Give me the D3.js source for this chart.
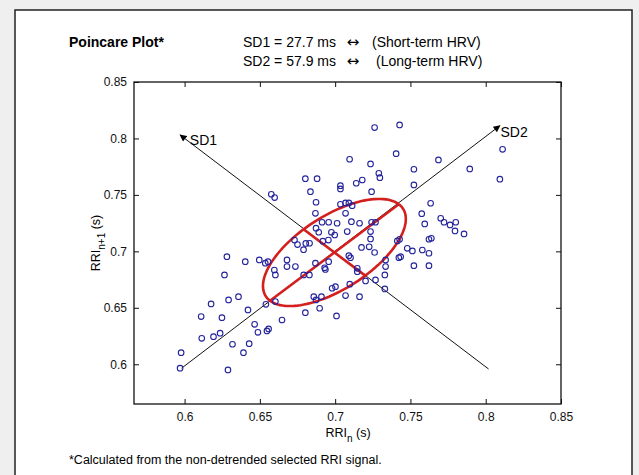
<!DOCTYPE html>
<html lang="en">
<head>
<meta charset="utf-8">
<title>Poincare Plot</title>
<script src="https://cdn.jsdelivr.net/npm/d3@7"></script>
<style>
  html, body { margin: 0; padding: 0; background: #efefef; }
  svg { display: block; font-family: "Liberation Sans", Arial, sans-serif; }
</style>
</head>
<body>
<svg width="639" height="475"></svg>
<script>
// RR interval pairs (seconds)
const rrN = [
  0.6576, 0.6598, 0.7262, 0.7428, 0.7405, 0.7096, 0.7235, 0.7290, 0.7297, 0.6802,
  0.6880, 0.7035, 0.7035, 0.7140, 0.7180, 0.7242, 0.6836, 0.6873, 0.7035, 0.7069,
  0.7091, 0.7113, 0.6869, 0.7069, 0.6957, 0.7013, 0.6913, 0.7108, 0.7162, 0.7242,
  0.7268, 0.7080, 0.7235, 0.7235, 0.6873, 0.6891, 0.6975, 0.6997, 0.6730, 0.6750,
  0.6805, 0.6830, 0.6790, 0.6918, 0.6955, 0.7175, 0.7226, 0.7262, 0.8112, 0.8094,
  0.7894, 0.7686, 0.7523, 0.7523, 0.7634, 0.7575, 0.7595, 0.7701, 0.7723, 0.7763,
  0.7801, 0.7796, 0.7856, 0.7428, 0.7413, 0.7623, 0.7639, 0.6281, 0.6403, 0.6496,
  0.6536, 0.6554, 0.6265, 0.6596, 0.6603, 0.6603, 0.6540, 0.6176, 0.6292, 0.6358,
  0.6421, 0.6110, 0.6248, 0.6647, 0.6465, 0.6487, 0.6547, 0.6558, 0.6114, 0.6192,
  0.6236, 0.6318, 0.6429, 0.6391, 0.5977, 0.5970, 0.6288, 0.6680, 0.6680, 0.6736,
  0.6869, 0.6791, 0.6829, 0.6930, 0.6935, 0.6957, 0.7091, 0.7102, 0.7335, 0.7335,
  0.7330, 0.7330, 0.7147, 0.7147, 0.7202, 0.7268, 0.7097, 0.6980, 0.7002, 0.7069,
  0.7162, 0.6858, 0.6873, 0.6909, 0.6897, 0.6802, 0.7009, 0.7479, 0.7513, 0.7579,
  0.7623, 0.7423, 0.7435, 0.7523, 0.7623
];
const rrN1 = [
  0.7506, 0.7476, 0.8096, 0.8120, 0.7865, 0.7816, 0.7774, 0.7692, 0.7653, 0.7644,
  0.7644, 0.7582, 0.7553, 0.7603, 0.7632, 0.7529, 0.7529, 0.7435, 0.7417, 0.7429,
  0.7429, 0.7405, 0.7337, 0.7337, 0.7258, 0.7249, 0.7258, 0.7263, 0.7249, 0.7258,
  0.7258, 0.7175, 0.7175, 0.7110, 0.7205, 0.7169, 0.7169, 0.7145, 0.7100, 0.7060,
  0.7070, 0.7072, 0.7015, 0.7090, 0.7100, 0.7035, 0.7040, 0.6990, 0.7904, 0.7639,
  0.7730, 0.7810, 0.7727, 0.7588, 0.7426, 0.7334, 0.7243, 0.7293, 0.7258, 0.7234,
  0.7258, 0.7181, 0.7154, 0.7107, 0.7092, 0.7107, 0.7116, 0.6953, 0.6909, 0.6924,
  0.6895, 0.6909, 0.6791, 0.6835, 0.6791, 0.6555, 0.6531, 0.6534, 0.6570, 0.6599,
  0.6481, 0.6422, 0.6413, 0.6392, 0.6354, 0.6283, 0.6295, 0.6313, 0.6230, 0.6244,
  0.6275, 0.6177, 0.6182, 0.6103, 0.6103, 0.5965, 0.5950, 0.6924, 0.6865, 0.6865,
  0.6895, 0.6791, 0.6791, 0.6855, 0.6840, 0.6909, 0.6962, 0.6944, 0.6924, 0.6865,
  0.6791, 0.6667, 0.6850, 0.6820, 0.6738, 0.6747, 0.6709, 0.6673, 0.6687, 0.6608,
  0.6599, 0.6599, 0.6570, 0.6599, 0.6496, 0.6457, 0.6428, 0.7027, 0.7004, 0.7012,
  0.6983, 0.6944, 0.6953, 0.6873, 0.6873
];

const tickValues = [0.6, 0.65, 0.7, 0.75, 0.8, 0.85];
const tickLabels = ["0.6", "0.65", "0.7", "0.75", "0.8", "0.85"];

const sd1Ms = 27.7;
const sd2Ms = 57.9;
const ellipseCenter = [0.6995, 0.699];
const ellipseAxes = [0.0605, 0.029];   // along SD2, SD1 (s)
const sd2Axis = [[0.598, 0.5965], [0.8094, 0.8113]];
const sd1Axis = [[0.8019, 0.5958], [0.597, 0.8031]];

const svg = d3.select("svg");

// outer panel
svg.append("rect").attr("width", 639).attr("height", 475).attr("fill", "#efefef");
svg.append("rect")
  .attr("x", 15).attr("y", 10).attr("width", 617).attr("height", 480)
  .attr("fill", "#fff").attr("stroke", "#222").attr("stroke-width", 1.5);

const x = d3.scaleLinear().domain([0.5664, 0.85]).range([134, 561]);
const y = d3.scaleLinear().domain([0.5648, 0.85]).range([404, 82]);

// header text
svg.append("text").attr("x", 69).attr("y", 47)
  .attr("font-size", 14).attr("font-weight", "bold").text("Poincare Plot*");

const header = [
  { y: 47, left: "SD1 = " + sd1Ms + " ms", right: "(Short-term HRV)", rx: 372 },
  { y: 65.5, left: "SD2 = " + sd2Ms + " ms", right: "(Long-term HRV)", rx: 376 }
];
header.forEach(h => {
  svg.append("text").attr("x", 243).attr("y", h.y).attr("font-size", 14).text(h.left);
  svg.append("text").attr("x", 353).attr("y", h.y).attr("font-size", 15)
    .attr("font-family", "DejaVu Sans, sans-serif")
    .attr("text-anchor", "middle").text("\u2194");
  svg.append("text").attr("x", h.rx).attr("y", h.y).attr("font-size", 14).text(h.right);
});

// axes
const fmt = (d, i) => tickLabels[i];
const axB = svg.append("g").attr("transform", "translate(0,404)")
  .call(d3.axisBottom(x).tickValues(tickValues).tickFormat(fmt).tickSizeInner(-5).tickSizeOuter(0).tickPadding(8));
const axL = svg.append("g").attr("transform", "translate(134,0)")
  .call(d3.axisLeft(y).tickValues(tickValues).tickFormat(fmt).tickSizeInner(-5).tickSizeOuter(0).tickPadding(7));
const axT = svg.append("g").attr("transform", "translate(0,82)")
  .call(d3.axisTop(x).tickValues(tickValues).tickFormat("").tickSizeInner(-5).tickSizeOuter(0));
const axR = svg.append("g").attr("transform", "translate(561,0)")
  .call(d3.axisRight(y).tickValues(tickValues).tickFormat("").tickSizeInner(-5).tickSizeOuter(0));

[axB, axL, axT, axR].forEach(g => {
  g.select(".domain").remove();
  g.selectAll("text").attr("font-size", 12).attr("font-family", "Liberation Sans, Arial, sans-serif").attr("fill", "#111");
  g.selectAll("line").attr("stroke", "#111");
});

svg.append("rect")
  .attr("x", 134).attr("y", 82).attr("width", 427).attr("height", 322)
  .attr("fill", "none").attr("stroke", "#111").attr("stroke-width", 1.3);

// axis labels
const xl = svg.append("text").attr("x", 348).attr("y", 437)
  .attr("text-anchor", "middle").attr("font-size", 12.5);
xl.append("tspan").text("RRI");
xl.append("tspan").attr("dy", 5).attr("font-size", 10).text("n");
xl.append("tspan").attr("dy", -5).text(" (s)");

const yl = svg.append("text").attr("transform", "translate(100,243) rotate(-90)")
  .attr("text-anchor", "middle").attr("font-size", 12.5);
yl.append("tspan").text("RRI");
yl.append("tspan").attr("dy", 5).attr("font-size", 10).text("n+1");
yl.append("tspan").attr("dy", -5).text(" (s)");

// footnote
svg.append("text").attr("x", 69).attr("y", 464).attr("font-size", 12.5)
  .text("*Calculated from the non-detrended selected RRI signal.");

// SD axes with arrows
svg.append("defs").append("marker")
  .attr("id", "arrow").attr("viewBox", "0 0 10 10")
  .attr("refX", 9).attr("refY", 5)
  .attr("markerWidth", 8).attr("markerHeight", 7)
  .attr("markerUnits", "userSpaceOnUse").attr("orient", "auto")
  .append("path").attr("d", "M0,0 L10,5 L0,10 z").attr("fill", "#000");

[sd2Axis, sd1Axis].forEach(a => {
  svg.append("line")
    .attr("x1", x(a[0][0])).attr("y1", y(a[0][1]))
    .attr("x2", x(a[1][0])).attr("y2", y(a[1][1]))
    .attr("stroke", "#111").attr("stroke-width", 1)
    .attr("marker-end", "url(#arrow)");
});
svg.append("text").attr("x", x(0.6035)).attr("y", y(0.7942)).attr("font-size", 14).text("SD1");
svg.append("text").attr("x", x(0.8098)).attr("y", y(0.8016)).attr("font-size", 14).text("SD2");

// ellipse + SD1/SD2 segments
const [cx, cy] = ellipseCenter;
const [ea, eb] = ellipseAxes;
const ellPts = d3.range(0, 361, 3).map(deg => {
  const t = deg * Math.PI / 180;
  const u = ea * Math.cos(t), v = eb * Math.sin(t);
  return [cx + (u - v) * Math.SQRT1_2, cy + (u + v) * Math.SQRT1_2];
});
const line = d3.line().x(d => x(d[0])).y(d => y(d[1]));
const red = "#d41f1f";
svg.append("path").attr("d", line(ellPts)).attr("fill", "none")
  .attr("stroke", red).attr("stroke-width", 2.6);
const k = Math.SQRT1_2;
svg.append("path").attr("d", line([[cx - ea * k, cy - ea * k], [cx + ea * k, cy + ea * k]]))
  .attr("stroke", red).attr("stroke-width", 2.6).attr("fill", "none");
svg.append("path").attr("d", line([[cx + eb * k, cy - eb * k], [cx - eb * k, cy + eb * k]]))
  .attr("stroke", red).attr("stroke-width", 2.6).attr("fill", "none");

// points
svg.append("g").selectAll("circle")
  .data(rrN.map((d, i) => [d, rrN1[i]]))
  .join("circle")
  .attr("cx", d => x(d[0])).attr("cy", d => y(d[1])).attr("r", 2.8)
  .attr("fill", "none").attr("stroke", "#23239c").attr("stroke-width", 1.1);
</script>
</body>
</html>
